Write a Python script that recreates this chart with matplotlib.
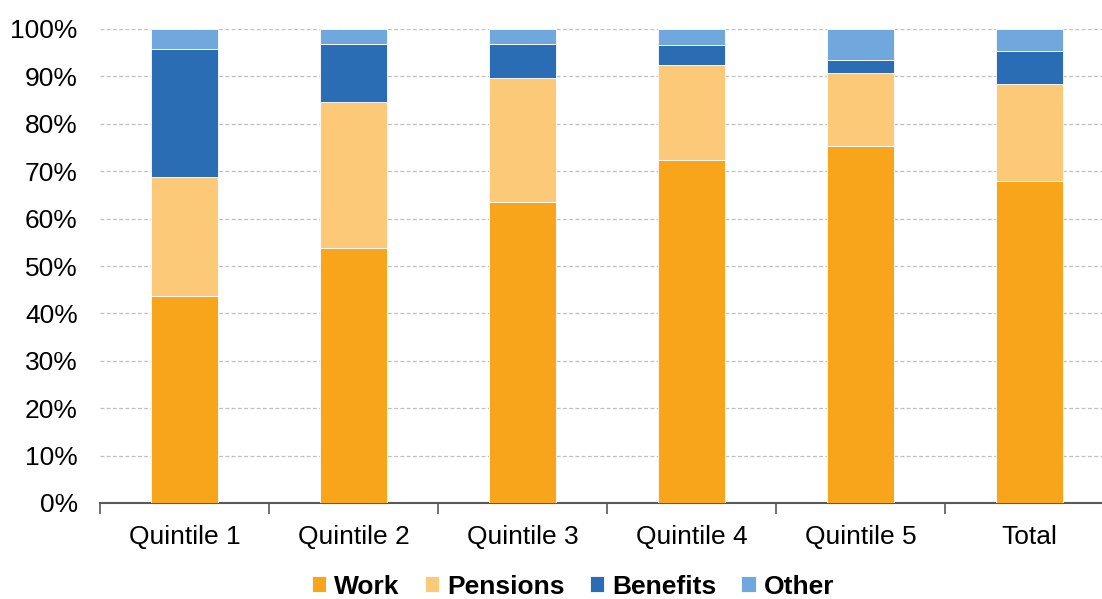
import numpy as np
import matplotlib.pyplot as plt
from matplotlib.ticker import FixedLocator, PercentFormatter

categories = ['Quintile 1', 'Quintile 2', 'Quintile 3', 'Quintile 4', 'Quintile 5', 'Total']
work = [43.6, 53.9, 63.6, 72.3, 75.3, 67.9]
pensions = [25.2, 30.6, 26.0, 20.0, 15.4, 20.6]
benefits = [27.0, 12.4, 7.3, 4.4, 2.7, 6.8]
other = [4.2, 3.1, 3.1, 3.3, 6.6, 4.7]

series = [('Work', work, '#F9A51B'),
          ('Pensions', pensions, '#FBC977'),
          ('Benefits', benefits, '#2A6DB5'),
          ('Other', other, '#70A7DD')]

plt.rcParams['font.family'] = ['Liberation Sans', 'DejaVu Sans']

fig = plt.figure(figsize=(11.02, 5.99), dpi=100)
ax = fig.add_axes([100 / 1102, 96 / 599, 1014 / 1102, 474 / 599])

x = np.arange(len(categories))
bottom = np.zeros(len(categories))
for name, vals, color in series:
    ax.bar(x, vals, width=0.40, bottom=bottom, color=color, label=name,
           edgecolor='white', linewidth=0.6, zorder=3)
    bottom += np.array(vals)

ax.set_xlim(-0.5, len(categories) - 0.5)
ax.set_ylim(0, 100)
ax.set_yticks(np.arange(0, 101, 10))
ax.yaxis.set_major_formatter(PercentFormatter(decimals=0))
ax.yaxis.grid(True, linestyle=(0, (3, 2)), color='#BFBFBF', linewidth=0.9, zorder=0)
ax.tick_params(axis='y', length=0, pad=16, labelsize=19, colors='black')

ax.set_xticks(x)
ax.set_xticklabels(categories)
ax.xaxis.set_minor_locator(FixedLocator(np.arange(-0.5, len(categories), 1.0)))
ax.tick_params(axis='x', which='major', length=0, pad=16, labelsize=19)
ax.tick_params(axis='x', which='minor', length=8, width=1.2, color='#595959')

for side in ['left', 'right', 'top']:
    ax.spines[side].set_visible(False)
ax.spines['bottom'].set_color('#595959')
ax.spines['bottom'].set_linewidth(1.5)

fig.legend(loc='lower center', bbox_to_anchor=(0.52, -0.039), ncol=4, frameon=False,
           prop={'weight': 'bold', 'size': 19}, handlelength=0.55, handleheight=0.55,
           handletextpad=0.3, columnspacing=0.95)

fig.savefig('out.png', dpi=100)
